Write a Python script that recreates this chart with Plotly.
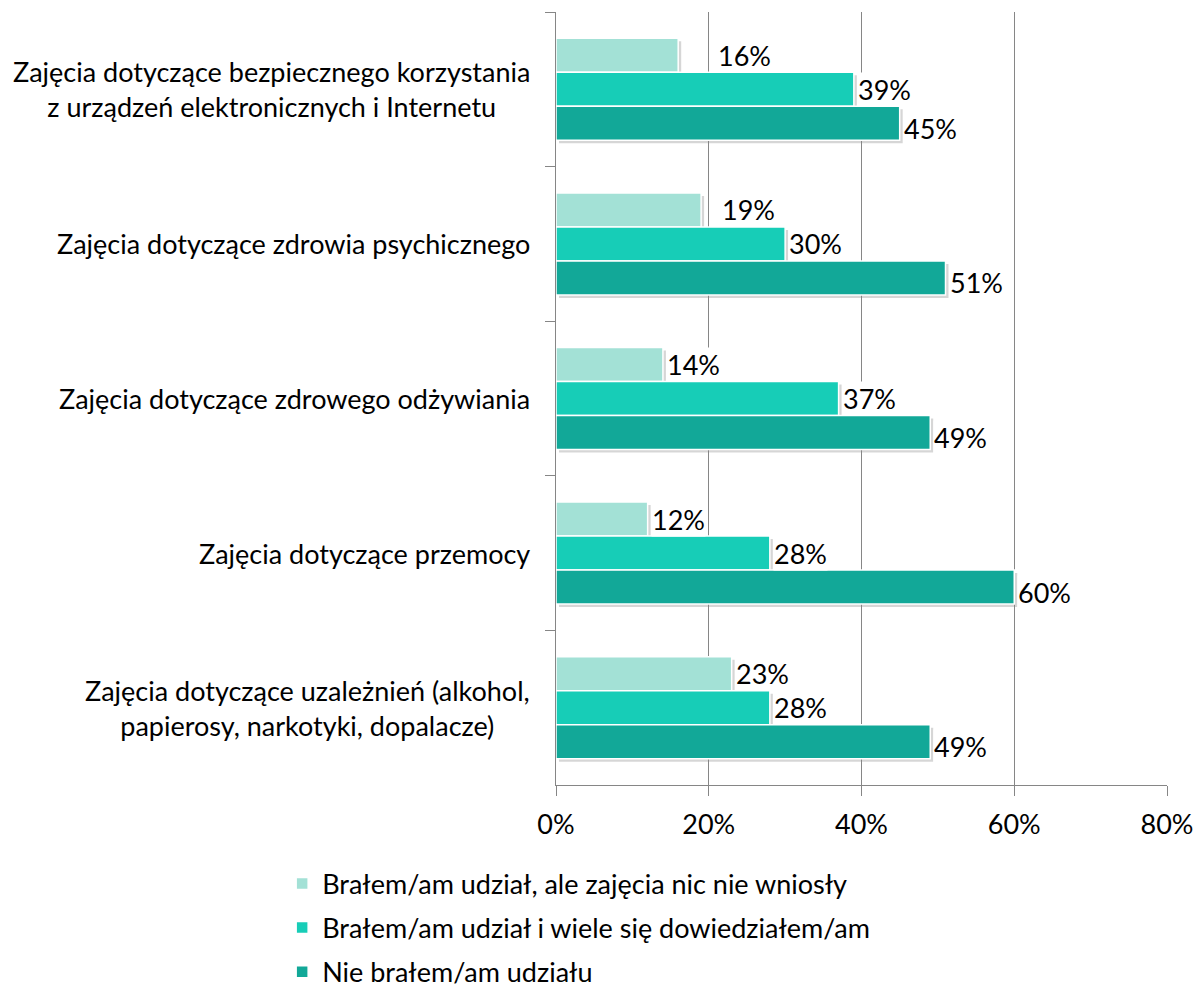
import plotly.graph_objects as go

# Categories (top to bottom) and the share of answers for each series
categories = [
    "Zajęcia dotyczące bezpiecznego korzystania<br>z urządzeń elektronicznych i Internetu",
    "Zajęcia dotyczące zdrowia psychicznego",
    "Zajęcia dotyczące zdrowego odżywiania",
    "Zajęcia dotyczące przemocy",
    "Zajęcia dotyczące uzależnień (alkohol,<br>papierosy, narkotyki, dopalacze)",
]
series_names = [
    "Brałem/am udział, ale zajęcia nic nie wniosły",
    "Brałem/am udział i wiele się dowiedziałem/am",
    "Nie brałem/am udziału",
]
took_part_no_gain = [16, 19, 14, 12, 23]
took_part_learned = [39, 30, 37, 28, 28]
did_not_take_part = [45, 51, 49, 60, 49]

x_ticks = [0, 20, 40, 60, 80]
x_tick_labels = ["0%", "20%", "40%", "60%", "80%"]

values = [took_part_no_gain, took_part_learned, did_not_take_part]
colors = ["#A3E1D6", "#17CDB7", "#12A898"]

FONT = "Lato"
FS = 27
TXT = "#000000"
GRID = "#868686"

# plot-area geometry in pixels (shadow layer sits a few px right/below)
W, H = 1203, 990
L, T = 556, 12
PW, PH = 611, 773
SH = 3
r_margin = W - (L + PW + SH)
b_margin = H - (T + PH + SH)
dx = SH / (PW + SH)
dy = SH / (PH + SH)
BARGAP = 0.34
bar_pitch = PH / len(categories) * (1 - BARGAP) / 3

fig = go.Figure()

# soft drop shadow behind each bar (drawn on the lower subplot layer)
for i in range(3):
    fig.add_trace(go.Bar(
        y=categories, x=values[i], orientation="h",
        marker=dict(color="rgba(0,0,0,0.16)", line=dict(width=0)),
        xaxis="x", yaxis="y", showlegend=False, hoverinfo="skip",
    ))

# main bars; with the reversed category axis the first trace is on top
for i in range(3):
    fig.add_trace(go.Bar(
        y=categories, x=values[i], orientation="h", name=series_names[i],
        marker=dict(color=colors[i], line=dict(color="white", width=1.5)),
        xaxis="x2", yaxis="y2", legendgroup=str(i), legendrank=i + 1,
    ))

# value labels with white boxes, overlapping gridlines
label_nudge_px = {(0, 0): 36, (1, 0): 17}
label_drop_px = [0, 0, -5]
annotations = []
for s in range(3):
    for c, cat in enumerate(categories):
        v = values[s][c]
        annotations.append(dict(
            x=v, y=cat, xref="x2", yref="y2", text=f"{v}%",
            showarrow=False, xanchor="left", yanchor="middle",
            xshift=3 + label_nudge_px.get((c, s), 0),
            yshift=(1 - s) * bar_pitch + label_drop_px[s],
            bgcolor="white", borderpad=0,
            font=dict(family=FONT, size=FS, color=TXT),
        ))

# category labels, each block centered and right-aligned to the axis
for cat in categories:
    annotations.append(dict(
        x=0, y=cat, xref="paper", yref="y2", text=cat, showarrow=False,
        xanchor="right", yanchor="middle", xshift=-24, align="center",
        font=dict(family=FONT, size=FS, color=TXT),
    ))

fig.update_layout(
    width=W, height=H,
    margin=dict(l=L, r=r_margin, t=T, b=b_margin, autoexpand=False),
    paper_bgcolor="white", plot_bgcolor="rgba(0,0,0,0)",
    barmode="group", bargap=BARGAP, bargroupgap=0,
    font=dict(family=FONT, size=FS, color=TXT),
    xaxis=dict(range=[0, 80], domain=[dx, 1], visible=False, fixedrange=True),
    yaxis=dict(domain=[0, 1 - dy], autorange="reversed", visible=False,
               anchor="x"),
    xaxis2=dict(range=[0, 80], domain=[0, 1 - dx], anchor="y2",
                tickvals=x_ticks, ticktext=x_tick_labels,
                showgrid=True, gridcolor=GRID, gridwidth=1,
                showline=True, linecolor=GRID, linewidth=1,
                ticks="outside", ticklen=10, tickcolor=GRID,
                ticklabelstandoff=6,
                zeroline=False, tickfont=dict(family=FONT, size=FS, color=TXT)),
    yaxis2=dict(domain=[dy, 1], anchor="x2", autorange="reversed",
                showticklabels=False, showline=True, linecolor=GRID,
                linewidth=1, ticks="outside", ticklen=10, tickcolor=GRID,
                tickson="boundaries", showgrid=False),
    legend=dict(orientation="v", x=-0.446, xanchor="left", y=-0.092,
                yanchor="top", traceorder="grouped", tracegroupgap=6,
                font=dict(family=FONT, size=FS, color=TXT)),
    annotations=annotations,
)

fig.write_html("out.html")
